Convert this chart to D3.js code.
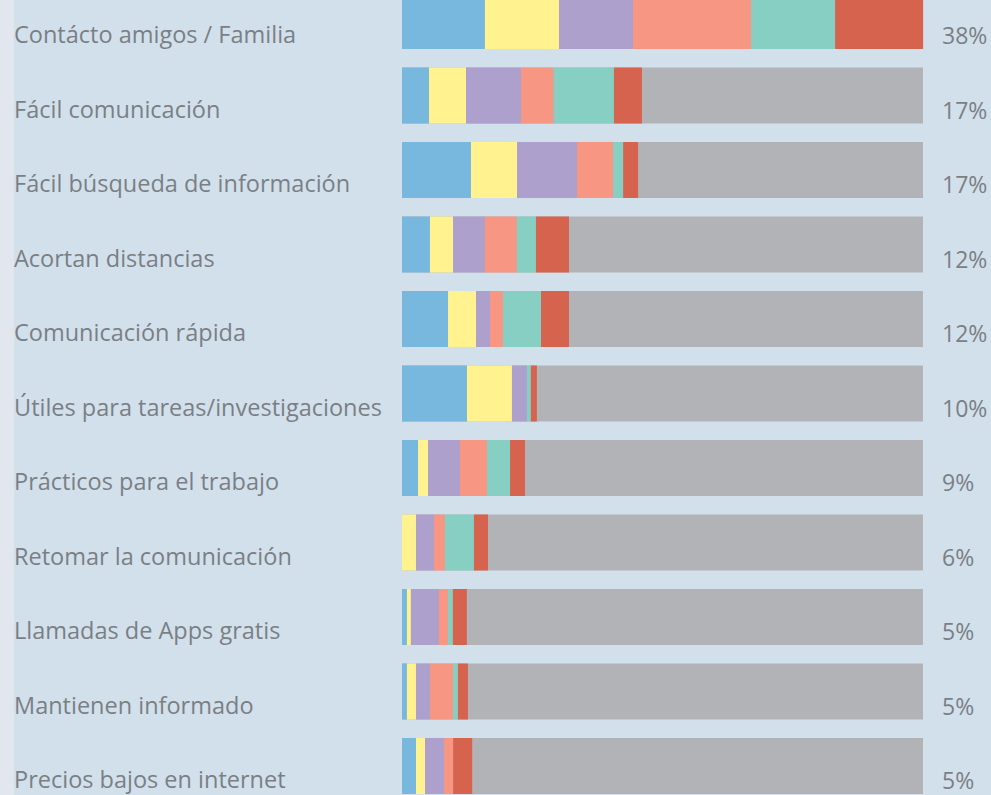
<!DOCTYPE html>
<html>
<head>
<meta charset="utf-8">
<script src="https://cdn.jsdelivr.net/npm/d3@7"></script>
<style>
  html, body { margin: 0; padding: 0; background: #d2e0eb; overflow: hidden; }
  svg { display: block; }
</style>
</head>
<body>
<div id="chart"></div>
<script>
// categories, top to bottom
const categories = [
    "Contácto amigos / Familia",
    "Fácil comunicación",
    "Fácil búsqueda de información",
    "Acortan distancias",
    "Comunicación rápida",
    "Útiles para tareas/investigaciones",
    "Prácticos para el trabajo",
    "Retomar la comunicación",
    "Llamadas de Apps gratis",
    "Mantienen informado",
    "Precios bajos en internet"
];
const totalLabels = ["38%", "17%", "17%", "12%", "12%", "10%", "9%", "6%", "5%", "5%", "5%"];

// six colour segments per row (percent points)
const seriesKeys = ["s1", "s2", "s3", "s4", "s5", "s6"];
const s1 = [6.05, 1.97, 5.03, 2.04, 3.36, 4.74, 1.17, 0.00, 0.36, 0.36, 1.02];
const s2 = [5.40, 2.70, 3.36, 1.68, 2.04, 3.28, 0.73, 1.02, 0.29, 0.66, 0.66];
const s3 = [5.40, 4.01, 4.38, 2.33, 1.02, 1.09, 2.33, 1.31, 2.04, 1.02, 1.39];
const s4 = [8.61, 2.38, 2.63, 2.33, 0.95, 0.00, 1.97, 0.80, 0.66, 1.68, 0.66];
const s5 = [6.13, 4.40, 0.73, 1.39, 2.77, 0.29, 1.68, 2.12, 0.36, 0.36, 0.00];
const s6 = [6.42, 2.04, 1.09, 2.41, 2.04, 0.44, 1.09, 1.02, 1.02, 0.73, 1.39];
const maxValue = 38;

const colors = ["#79b8de", "#fff28f", "#ada0cd", "#f89684", "#87cfc3", "#d6634e"];
const restColor = "#b2b3b6";
const textColor = "#7a7f85";

const width = 991;
const height = 795;

const rows = categories.map((c, i) => ({
    name: c, total: totalLabels[i],
    s1: s1[i], s2: s2[i], s3: s3[i], s4: s4[i], s5: s5[i], s6: s6[i]
}));

const svg = d3.select("#chart")
    .append("svg")
    .attr("width", width)
    .attr("height", height);

// pale strip on the left edge
svg.append("rect")
    .attr("x", 0).attr("y", 0)
    .attr("width", 14).attr("height", height)
    .attr("fill", "#e1e6ef");

const x = d3.scaleLinear()
    .domain([0, maxValue])
    .range([402, 923]);

const y = d3.scaleBand()
    .domain(categories)
    .range([-7, 794])
    .paddingInner(0.2483)
    .paddingOuter(0);

// grey full-length track behind each bar
svg.append("g")
    .selectAll("rect")
    .data(rows)
    .join("rect")
    .attr("x", x(0))
    .attr("y", d => y(d.name))
    .attr("width", x(maxValue) - x(0))
    .attr("height", y.bandwidth())
    .attr("fill", restColor);

const stacked = d3.stack().keys(seriesKeys)(rows);

svg.append("g")
    .selectAll("g")
    .data(stacked)
    .join("g")
    .attr("fill", (d, i) => colors[i])
    .selectAll("rect")
    .data(d => d)
    .join("rect")
    .attr("x", d => x(d[0]))
    .attr("y", d => y(d.data.name))
    .attr("width", d => x(d[1]) - x(d[0]))
    .attr("height", y.bandwidth());

// category labels
svg.append("g")
    .selectAll("text")
    .data(rows)
    .join("text")
    .attr("x", 14)
    .attr("y", d => y(d.name) + y.bandwidth() - 6)
    .attr("font-family", "'Open Sans', sans-serif")
    .attr("font-size", "23.5px")
    .attr("fill", textColor)
    .text(d => d.name);

// percent labels
svg.append("g")
    .selectAll("text")
    .data(rows)
    .join("text")
    .attr("x", 942)
    .attr("y", d => y(d.name) + y.bandwidth() - 5)
    .attr("font-family", "'Open Sans', sans-serif")
    .attr("font-size", "23px")
    .attr("fill", textColor)
    .text(d => d.total);
</script>
</body>
</html>
